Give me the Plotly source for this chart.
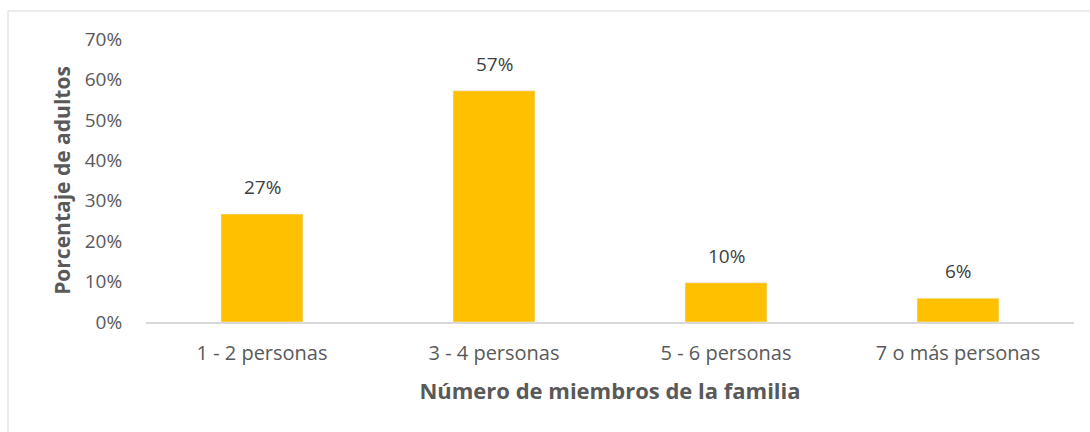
import plotly.graph_objects as go

categories = ["1 - 2 personas", "3 - 4 personas", "5 - 6 personas", "7 o más personas"]
values = [0.267, 0.572, 0.097, 0.059]
labels = ["27%", "57%", "10%", "6%"]
y_ticks = [0, 0.1, 0.2, 0.3, 0.4, 0.5, 0.6, 0.7]
y_ticktext = ["0%", "10%", "20%", "30%", "40%", "50%", "60%", "70%"]

W, H = 1090, 432
L, R, T, B = 146, 16, 39, 110
pw, ph = W - L - R, H - T - B

def px(x):
    return (x - L) / pw

def py(y):
    return (H - B - y) / ph

fig = go.Figure(go.Bar(
    x=categories, y=values,
    marker=dict(color="#FFC000"), width=0.353,
))

for c, v, t in zip(categories, values, labels):
    fig.add_annotation(
        x=c, y=v, text=t, showarrow=False, yanchor="bottom", yshift=12,
        font=dict(size=19, color="#404040", family="Open Sans"),
    )

fig.update_layout(
    width=W, height=H,
    margin=dict(l=L, r=R, t=T, b=B),
    paper_bgcolor="white", plot_bgcolor="white",
    font=dict(family="Open Sans", color="#595959", size=19),
    showlegend=False,
    xaxis=dict(
        showline=True, linecolor="#d9d9d9", linewidth=1.5,
        ticks="outside", ticklen=12, tickcolor="rgba(0,0,0,0)",
        tickfont=dict(size=20, color="#595959"),
        title=dict(text="<b>Número de miembros de la familia</b>",
                   font=dict(size=22, color="#595959"), standoff=19),
    ),
    yaxis=dict(
        range=[0, 0.7], tickvals=y_ticks, ticktext=y_ticktext,
        showgrid=False, zeroline=False, showline=False,
        ticks="outside", ticklen=19, tickcolor="rgba(0,0,0,0)",
        tickfont=dict(size=19, color="#595959"),
        title=dict(text="<b>Porcentaje de adultos</b>",
                   font=dict(size=21, color="#595959"), standoff=8),
    ),
    shapes=[dict(
        type="rect", xref="paper", yref="paper",
        x0=px(8), x1=px(1100), y0=py(445), y1=py(11),
        line=dict(color="#d9d9d9", width=1), fillcolor="rgba(0,0,0,0)",
        layer="below",
    )],
)

fig.write_html("out.html", config={"displayModeBar": False},
               post_script="document.body.style.margin='0';")
